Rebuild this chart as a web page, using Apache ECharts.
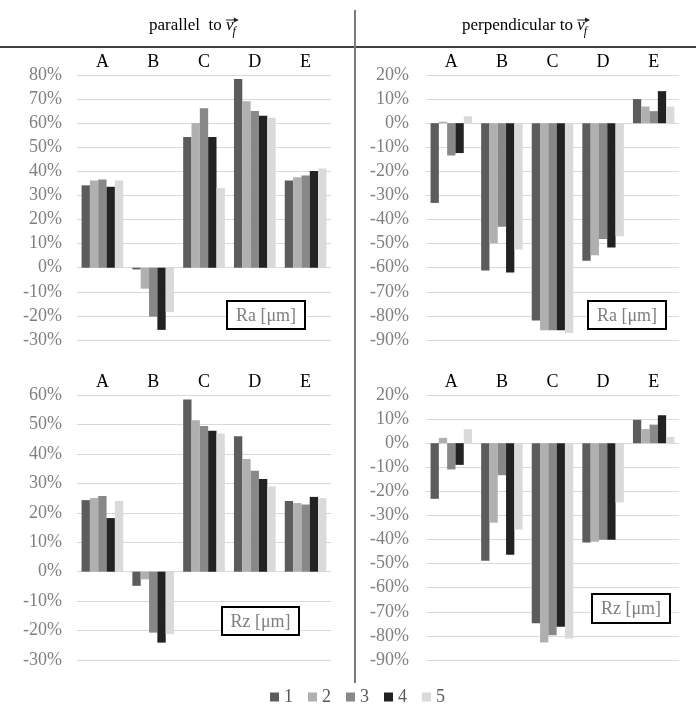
<!DOCTYPE html>
<html><head><meta charset="utf-8">
<script src="https://cdn.jsdelivr.net/npm/echarts@6/dist/echarts.min.js"></script>
<style>html,body{margin:0;padding:0;background:#fff}#c{width:696px;height:707px}</style>
</head><body><div id="c"></div>
<script>
const categories = ['A', 'B', 'C', 'D', 'E'];
const seriesNames = ['1', '2', '3', '4', '5'];
const seriesColors = ['#5c5c5c', '#b0b0b0', '#888888', '#222222', '#dadada'];

// Ra, parallel to vf  (one array per series 1..5, values in %)
const raPar1 = [34.2, -0.7, 54.3, 78.3, 36.2];
const raPar2 = [36.2, -8.7, 60.1, 69.1, 37.6];
const raPar3 = [36.6, -20.3, 66.2, 65.1, 38.3];
const raPar4 = [33.6, -25.8, 54.3, 63.1, 40.2];
const raPar5 = [36.2, -18.4, 33.1, 62.3, 41.2];
// Ra, perpendicular to vf
const raPerp1 = [-33.1, -61.1, -81.9, -57.1, 10.0];
const raPerp2 = [0.6, -49.8, -86.0, -54.8, 6.9];
const raPerp3 = [-13.4, -43.0, -86.0, -48.1, 5.0];
const raPerp4 = [-12.4, -62.0, -86.0, -51.6, 13.3];
const raPerp5 = [2.9, -52.4, -87.1, -46.9, 6.9];
// Rz, parallel to vf
const rzPar1 = [24.3, -4.8, 58.5, 46.0, 24.0];
const rzPar2 = [25.0, -2.6, 51.4, 38.3, 23.3];
const rzPar3 = [25.7, -20.7, 49.5, 34.3, 22.8];
const rzPar4 = [18.2, -24.1, 47.9, 31.5, 25.4];
const rzPar5 = [24.0, -21.2, 46.9, 28.9, 25.0];
// Rz, perpendicular to vf
const rzPerp1 = [-23.1, -48.8, -74.7, -41.2, 9.7];
const rzPerp2 = [2.2, -33.0, -82.7, -40.9, 5.9];
const rzPerp3 = [-10.9, -13.3, -79.7, -40.1, 7.7];
const rzPerp4 = [-9.0, -46.3, -76.2, -40.1, 11.6];
const rzPerp5 = [5.8, -35.8, -81.1, -24.6, 2.6];

const yMin = [-30, -90, -30, -90];
const yMax = [80, 20, 60, 20];
const yInterval = 10;

const panels = [
  [raPar1, raPar2, raPar3, raPar4, raPar5],
  [raPerp1, raPerp2, raPerp3, raPerp4, raPerp5],
  [rzPar1, rzPar2, rzPar3, rzPar4, rzPar5],
  [rzPerp1, rzPerp2, rzPerp3, rzPerp4, rzPerp5]
];
const boxLabels = ['Ra [μm]', 'Ra [μm]', 'Rz [μm]', 'Rz [μm]'];
const titleMain = ['parallel  to ', 'perpendicular to '];

const SERIF = '"Liberation Serif", "Times New Roman", serif';
const grids = [
  { left: 77, top: 75, width: 254, height: 265 },
  { left: 426, top: 75, width: 253, height: 265 },
  { left: 77, top: 395, width: 254, height: 265 },
  { left: 426, top: 395, width: 253, height: 265 }
];
const labelMargins = [15, 17, 15, 17];
const boxes = [
  { x: 227, y: 301, w: 78, h: 28 },
  { x: 588, y: 301, w: 78, h: 28 },
  { x: 222, y: 607, w: 77, h: 28 },
  { x: 592, y: 594, w: 78, h: 29 }
];

const xAxes = grids.map((g, i) => ({
  type: 'category', gridIndex: i, position: 'top', data: categories,
  axisLine: { show: false }, axisTick: { show: false }, splitLine: { show: false },
  axisLabel: { color: '#000', fontFamily: SERIF, fontSize: 18, margin: 4 }
}));
const yAxes = grids.map((g, i) => ({
  type: 'value', gridIndex: i, min: yMin[i], max: yMax[i], interval: yInterval,
  axisLine: { show: false }, axisTick: { show: false },
  splitLine: { lineStyle: { color: '#d9d9d9', width: 1 } },
  axisLabel: { color: '#7f7f7f', fontFamily: SERIF, fontSize: 18, margin: labelMargins[i], formatter: '{value}%' }
}));
const series = [];
panels.forEach((p, i) => {
  p.forEach((vals, j) => {
    series.push({
      type: 'bar', name: seriesNames[j], xAxisIndex: i, yAxisIndex: i,
      data: vals, barGap: '0%', barCategoryGap: '18%',
      itemStyle: { color: seriesColors[j] }, silent: true, animation: false
    });
  });
});

// text measurement for title layout
const mctx = document.createElement('canvas').getContext('2d');
function tw(text, font) { mctx.font = font; return mctx.measureText(text).width; }
const FMAIN = '17px "Liberation Serif"';
const FV = 'italic 17px "Liberation Serif"';
const FSUB = 'italic 12px "Liberation Serif"';

const graphic = [
  { type: 'line', shape: { x1: 0, y1: 47, x2: 696, y2: 47 }, style: { stroke: '#000', lineWidth: 1.5 }, silent: true },
  { type: 'line', shape: { x1: 355, y1: 10, x2: 355, y2: 683 }, style: { stroke: '#7a7a7a', lineWidth: 2 }, silent: true }
];
const titleStarts = [149, 462];
titleMain.forEach((t, k) => {
  const x0 = titleStarts[k];
  const wMain = tw(t, FMAIN);
  const vx = x0 + wMain;
  const wv = tw('v', FV);
  const fx = vx + wv - 1;
  const wf = tw('f', FSUB);
  const ax2 = fx + wf + 3;
  graphic.push({ type: 'text', x: x0, y: 34, style: { text: t, font: FMAIN, fill: '#000', textAlign: 'left', textVerticalAlign: 'bottom' }, silent: true });
  graphic.push({ type: 'text', x: vx, y: 34, style: { text: 'v', font: FV, fill: '#000', textAlign: 'left', textVerticalAlign: 'bottom' }, silent: true });
  graphic.push({ type: 'text', x: fx, y: 38, style: { text: 'f', font: FSUB, fill: '#000', textAlign: 'left', textVerticalAlign: 'bottom' }, silent: true });
  graphic.push({ type: 'line', shape: { x1: vx, y1: 20, x2: ax2 - 2, y2: 20 }, style: { stroke: '#222', lineWidth: 1 }, silent: true });
  graphic.push({ type: 'polygon', shape: { points: [[ax2 - 5, 17.5], [ax2, 20], [ax2 - 5, 22.5]] }, style: { fill: '#222' }, silent: true });
});
boxes.forEach((b, i) => {
  graphic.push({ type: 'rect', shape: { x: b.x, y: b.y, width: b.w, height: b.h }, style: { fill: '#fff', stroke: '#000', lineWidth: 2 }, z: 10, silent: true });
  graphic.push({ type: 'text', x: b.x + b.w / 2, y: b.y + b.h / 2 + 1, style: { text: boxLabels[i], font: '18px "Liberation Serif"', fill: '#7f7f7f', textAlign: 'center', textVerticalAlign: 'middle' }, z: 11, silent: true });
});

const chart = echarts.init(document.getElementById('c'), null, { renderer: 'canvas' });
chart.setOption({
  animation: false,
  backgroundColor: '#fff',
  grid: grids.map(g => Object.assign({ containLabel: false }, g)),
  xAxis: xAxes,
  yAxis: yAxes,
  legend: {
    data: seriesNames, left: 265, top: 683, icon: 'rect', itemWidth: 9, itemHeight: 9, itemGap: 15,
    textStyle: { color: '#595959', fontFamily: SERIF, fontSize: 18 }, selectedMode: false
  },
  series: series,
  graphic: graphic
});
</script></body></html>
